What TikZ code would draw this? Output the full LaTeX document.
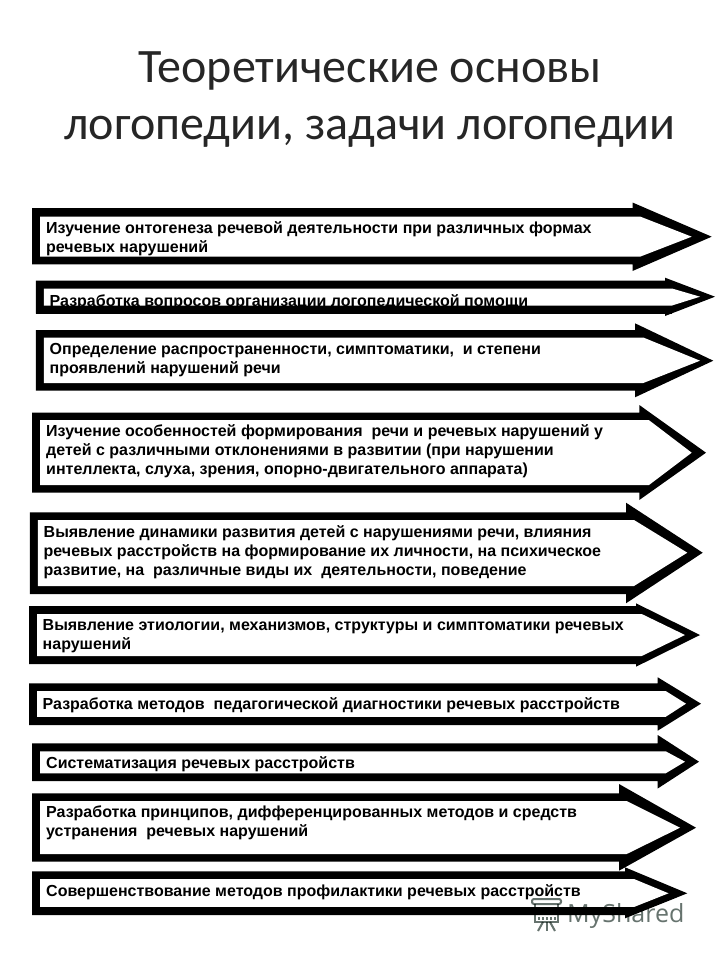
\documentclass[tikz,border=0pt]{standalone}
\usepackage{fontspec}
\setmainfont{Liberation Sans}
\newfontfamily\titlefont{Carlito}
\newfontfamily\bodyfont{Liberation Sans Bold}
\newfontfamily\markfont{Open Sans}
\definecolor{markgray}{HTML}{66736E}
\tikzset{
  outerbody/.style={fill=black,draw=none},
  innerbody/.style={fill=white,draw=none},
  titletext/.style={font=\titlefont\fontsize{48}{57}\selectfont,text=black!85,align=center,inner sep=0pt},
  arrowtext/.style={font=\bodyfont\fontsize{16}{19}\selectfont,text=black,align=left,anchor=north west,inner sep=0pt},
  marktext/.style={font=\markfont\fontsize{25}{25}\selectfont,text=markgray,inner sep=0pt},
  markline/.style={draw=markgray,line width=2pt,fill=none},
  markdot/.style={fill=markgray,draw=none}
}
% #1 L, #2 T, #3 B, #4 HX, #5 Htop, #6 Hbot, #7 tipx, #8 tipy, #9 inner spec
\newcommand{\arrowshape}[9]{%
  \fill[outerbody] (#1,#2) -- (#4,#2) -- (#4,#5) -- (#7,#8) -- (#4,#6) -- (#4,#3) -- (#1,#3) -- cycle;
  \def\innerargs{#9}%
  \expandafter\innerpoly\innerargs{#1}{#8}%
}
% inner: itop, ibot, ix, itipx, L, tipy
\newcommand{\innerpoly}[6]{%
  \fill[innerbody] ({#5+8},#1) -- (#3,#1) -- (#4,#6) -- (#3,#2) -- ({#5+8},#2) -- cycle;
}
\begin{document}
\begin{tikzpicture}[x=1pt,y=-1pt]
\useasboundingbox (0,0) rectangle (720,960);
\fill[white] (0,0) rectangle (720,960);

\node[titletext] (title) at (370,100) {Теоретические основы\\логопедии, задачи логопедии};

\arrowshape{32}{208}{264.3}{632.5}{202.5}{271}{711.7}{236.7}{{216.5}{256.7}{640}{691.7}}
\node[arrowtext] (t1) at (46,221) {Изучение онтогенеза речевой деятельности при различных формах\\речевых нарушений};

\arrowshape{35.8}{280.7}{313.5}{665}{277.7}{316}{715}{296.7}{{288.5}{305.5}{672}{700}}
\node[arrowtext] (t2) at (49.5,294) {Разработка вопросов организации логопедической помощи};
\fill[outerbody] (35.8,305.5) rectangle (672,313.5);

\arrowshape{35.8}{330}{390.7}{635}{323.3}{397.3}{713.3}{360.7}{{337.5}{383}{643.3}{700}}
\node[arrowtext] (t3) at (49.5,343) {Определение распространенности, симптоматики,~ и степени\\проявлений нарушений речи};

\arrowshape{32}{412.7}{492.7}{639.3}{405}{500}{706}{452.7}{{420.2}{485}{649}{691.7}}
\node[arrowtext] (t4) at (46,424) {Изучение особенностей формирования~ речи и речевых нарушений у\\детей с различными отклонениями в развитии (при нарушении\\интеллекта, слуха, зрения, опорно-двигательного аппарата)};

\arrowshape{29.8}{512.3}{594}{626}{502.7}{603.3}{702.7}{552.7}{{520}{586}{634}{687.3}}
\node[arrowtext] (t5) at (43.5,525) {Выявление динамики развития детей с нарушениями речи, влияния\\речевых расстройств на формирование их личности, на психическое\\развитие, на~ различные виды их~ деятельности, поведение};

\arrowshape{29}{606}{664}{636}{603.3}{666.7}{700}{635}{{614}{656}{641.7}{685}}
\node[arrowtext] (t6) at (42.5,619) {Выявление этиологии, механизмов, структуры и симптоматики речевых\\нарушений};

\arrowshape{29}{683.3}{725}{657.7}{677.3}{730.7}{701}{703.7}{{691}{716.8}{665.7}{686}}
\node[arrowtext] (t7) at (42.5,697.5) {Разработка методов~ педагогической диагностики речевых расстройств};

\arrowshape{32}{743.3}{781}{657.7}{735}{788.5}{699}{761.7}{{751.3}{773.3}{665.7}{685}}
\node[arrowtext] (t8) at (46,756) {Систематизация речевых расстройств};

\arrowshape{32}{793.3}{861.7}{619}{784}{870.7}{696}{827.7}{{801}{854}{626.7}{680}}
\node[arrowtext] (t9) at (46,806) {Разработка принципов, дифференцированных методов и средств\\устранения~ речевых нарушений};

\arrowshape{32}{871.3}{915}{625}{867.3}{918.3}{687.3}{893.3}{{879.2}{906.8}{634.5}{668.5}}
\node[arrowtext] (t10) at (46,884) {Совершенствование методов профилактики речевых расстройств};

% watermark printed over the last arrow: it darkens the white, leaves the black
\begin{scope}[blend mode=multiply]
\node[marktext,anchor=base west] (mark) at (567,922.7) {MyShared};
\draw[markline,rounded corners=2pt] (532,899) rectangle (561,904);
\draw[markline] (535,904) -- (535,922) -- (558,922) -- (558,904);
\draw[markline] (546.5,922) -- (546.5,931);
\draw[markline] (543,922) -- (538,931);
\draw[markline] (550,922) -- (555,931);
\foreach \dx in {539,543,547,551,555}{\fill[markdot] (\dx-1,916.5) rectangle (\dx+1,919.5);}
\end{scope}
\end{tikzpicture}
\end{document}
